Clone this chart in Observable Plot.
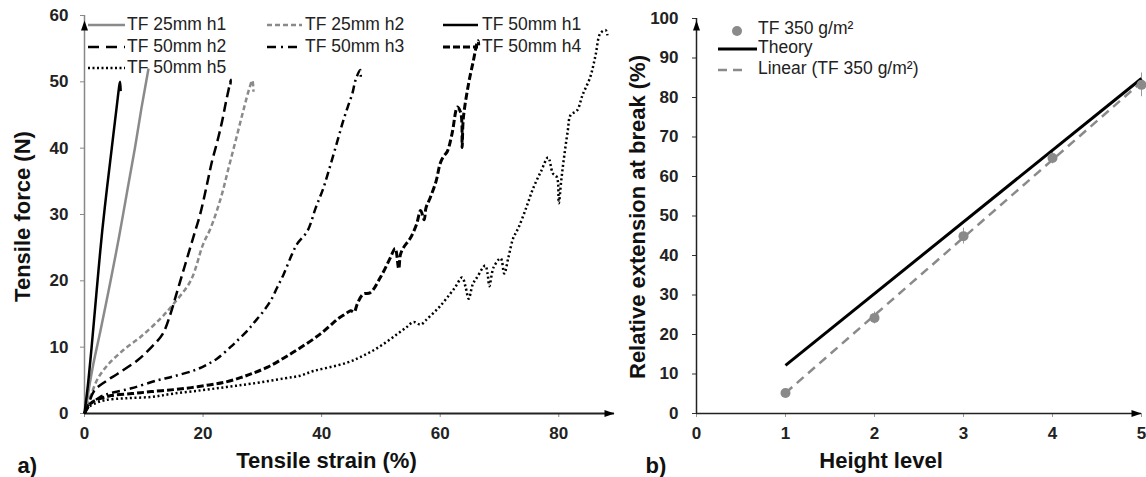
<!DOCTYPE html>
<html>
<head>
<meta charset="utf-8">
<script src="https://cdn.jsdelivr.net/npm/d3@7"></script>
<script src="https://cdn.jsdelivr.net/npm/@observablehq/plot@0.6"></script>
<style>
  body { margin: 0; background: #fff; }
  #wrap { position: relative; width: 1146px; height: 477px; display: flex; font-family: "Liberation Sans", Arial, sans-serif; }
  #a, #b { flex: none; }
  #legend { position: absolute; left: 0; top: 0; pointer-events: none; }
</style>
</head>
<body>
<div id="wrap">
  <div id="a"></div>
  <div id="b"></div>
  <svg id="legend" width="1146" height="477"></svg>
</div>
<script>
// ---------- Panel a data: [tensile strain (%), tensile force (N)] ----------
const tf25h1 = [[0,0],[0.3,1.2],[0.7,3.5],[1.5,7.5],[2.7,12.5],[4.4,20],[5.8,26.5],[7.2,33.5],[8.5,40],[9.6,46],[10.4,50],[10.8,52]];
const tf25h2 = [[0,0],[0.4,1.2],[1.1,2.8],[2.2,5.2],[3.9,7.3],[6.6,9.6],[9.4,11.5],[12.8,14.3],[15,16.5],[17.9,20],[20,25.5],[21.3,28],[23,32.5],[24.3,37],[25.6,41.5],[26.8,45.7],[27.8,49],[28.3,50.2],[28.5,48.5]];
const tf50h1 = [[0,0],[0.6,4.5],[1.2,10],[1.8,16],[2.4,22],[3,27.6],[3.8,34],[4.6,40],[5.4,46],[6,50],[6.1,48.6]];
const tf50h2 = [[0,0],[0.5,1],[1.7,3.5],[3.5,4.8],[5.6,6],[8.9,8],[11.3,10],[13.2,12],[14.5,15],[15.5,18],[16.5,21],[17.5,24],[18.5,27],[19.5,30],[20.7,34.7],[21.5,38],[22.4,41],[23.2,44],[23.8,46.7],[24.4,49.2],[24.7,50.3],[24.6,49.6]];
const tf50h3 = [[0,0],[1,1.4],[2.5,2.4],[3.4,2.8],[5,3.2],[7.9,3.8],[12.3,5],[15,5.6],[18.5,6.5],[20.5,7.3],[22.4,8.3],[24.6,10],[25.8,11],[27.5,12.5],[28.5,13.6],[30,15.2],[31.4,17],[32.5,19],[33.6,21],[35,24],[35.9,25.6],[37.6,27.5],[39,31],[40.3,34],[41.5,37.5],[42.7,41.2],[43.6,44],[44.4,46.2],[45.2,48.3],[45.7,50.2],[46.5,51.8],[46.6,50.5]];
const tf50h4 = [[0,0],[1,1.5],[2.5,2.2],[4.5,2.7],[8,3],[11.3,3.3],[15,3.6],[18,3.9],[21,4.3],[23.6,4.7],[26.3,5.4],[28.2,6],[30.9,7],[33.7,8.4],[36.4,9.9],[39.8,12],[42,13.7],[42.8,14.3],[44,15],[44.9,15.5],[45.5,15.3],[46,16.5],[47,18],[48.2,18.2],[49.9,20.5],[51.6,23.5],[52.4,24.9],[53,21.8],[53.3,24],[53.8,25],[55,26.5],[56,28.5],[56.7,30.6],[57.3,29.2],[57.6,31],[58.3,32.5],[59.3,35],[60,37.7],[60.6,38.8],[61.2,39.5],[62,42.2],[62.9,46.2],[63.5,45.2],[63.7,40.1],[63.9,44.5],[64.8,49.8],[65.6,53.2],[66.2,55.8],[66.4,56.2],[66.5,55.5]];
const tf50h5 = [[0,0],[0.5,0.8],[1.5,1.4],[3.4,2],[7,2.3],[11.3,2.5],[15,3],[19.7,3.5],[24,4],[28.2,4.5],[33.7,5.3],[36.4,5.7],[38.6,6.4],[41.5,7],[44.4,7.7],[46.5,8.5],[48.7,9.5],[50.8,10.7],[52.8,12],[54.3,13],[55.5,13.8],[56.7,13.4],[57.5,14],[58.9,15.2],[60,16.2],[61.2,17.5],[62.5,19],[63.7,20.5],[64.3,19],[64.8,17.3],[65.5,19.5],[66.2,20.5],[67.6,22.3],[68,21],[68.3,19.2],[69,22],[70.2,23.4],[70.8,21.1],[71.5,23.5],[72.3,26.4],[73.2,28],[74.5,31],[75.7,34],[77,36.5],[78.2,38.6],[79,36.2],[79.7,35.6],[80,31.7],[80.4,35],[80.8,38],[81.5,42.5],[82,45],[83.1,45.7],[84,48],[85.3,50.7],[86.2,54],[87,57.3],[87.9,57.8],[88.2,57]];

const seriesNamesA = ["TF 25mm h1","TF 25mm h2","TF 50mm h1","TF 50mm h2","TF 50mm h3","TF 50mm h4","TF 50mm h5"];
const xTicksA = [0,20,40,60,80];
const yTicksA = [0,10,20,30,40,50,60];
const xDomainA = [0, 89.4];
const yDomainA = [0, 60];

// ---------- Panel b data ----------
const heightLevels = [1,2,3,4,5];
const extension = [5.2, 24.2, 44.9, 64.7, 83.2];
const extensionErr = [1, 1.5, 2, 1.5, 3];
const theoryX = [1, 5];
const theoryY = [12.2, 84.8];
const linearX = [1, 5];
const linearY = [5.2, 83.9];
const xTicksB = [0,1,2,3,4,5];
const yTicksB = [0,10,20,30,40,50,60,70,80,90,100];
const xDomainB = [0, 5];
const yDomainB = [0, 100];
const legendNamesB = ["TF 350 g/m²", "Theory", "Linear (TF 350 g/m²)"];

// ---------- styles ----------
const GREY = "#8a8a8a";
const styleA = [
  {stroke: GREY, dash: null, w: 2.5},
  {stroke: GREY, dash: "5,3", w: 2.5},
  {stroke: "#000", dash: null, w: 2.5},
  {stroke: "#000", dash: "10,5", w: 2.5},
  {stroke: "#000", dash: "8,4,2,4", w: 2.5},
  {stroke: "#000", dash: "7,3", w: 3},
  {stroke: "#000", dash: "2,2.6", w: 2.5}
];
const legendDashA = [null, "5,3", null, "11,7", "9,5,2,5", "7,3", "2,2.5"];
const dataA = [tf25h1, tf25h2, tf50h1, tf50h2, tf50h3, tf50h4, tf50h5];

const arrowHead = {draw(ctx) { ctx.moveTo(0, 0); ctx.lineTo(-3.5, 10); ctx.lineTo(3.5, 10); ctx.closePath(); }};
const FONT = "'Liberation Sans', Arial, sans-serif";
const fmtInt = d => String(d);

const lineMarks = dataA.map((d, i) => Plot.line(d, {
  x: p => p[0], y: p => p[1], stroke: styleA[i].stroke, strokeWidth: styleA[i].w,
  strokeDasharray: styleA[i].dash, strokeLinecap: "butt", strokeLinejoin: "round", curve: "catmull-rom"
}));

const titleStyle = {fontSize: 22, fontWeight: "bold", fill: "#111"};

const plotA = Plot.plot({
  width: 620, height: 477,
  marginLeft: 84, marginRight: 6, marginTop: 15, marginBottom: 64,
  style: {fontFamily: FONT, background: "transparent"},
  x: {domain: xDomainA},
  y: {domain: yDomainA},
  marks: [
    Plot.axisY({ticks: yTicksA, tickFormat: fmtInt, tickSize: 4, tickPadding: 12, stroke: "#888", fill: "#222", fontSize: 17, fontWeight: "bold", label: null}),
    Plot.axisX({ticks: xTicksA, tickFormat: fmtInt, tickSize: 4, tickPadding: 9, stroke: "#888", fill: "#222", fontSize: 17, fontWeight: "bold", label: null}),
    Plot.ruleX([xDomainA[0]], {y1: yDomainA[0], y2: yDomainA[1], stroke: "#888", strokeWidth: 1.5}),
    Plot.ruleY([yDomainA[0]], {x1: xDomainA[0], x2: xDomainA[1], stroke: "#222", strokeWidth: 1.8}),
    Plot.dot([0], {x: () => xDomainA[0], y: () => yDomainA[1], symbol: arrowHead, fill: "#000", stroke: null, dy: 5}),
    Plot.dot([0], {x: () => xDomainA[1], y: () => yDomainA[0], symbol: arrowHead, fill: "#000", stroke: null, rotate: 90}),
    ...lineMarks,
    Plot.text(["Tensile force (N)"], {frameAnchor: "left", textAnchor: "middle", lineAnchor: "middle", rotate: -90, dx: -62, dy: 2, ...titleStyle}),
    Plot.text(["Tensile strain (%)"], {frameAnchor: "bottom", textAnchor: "middle", lineAnchor: "middle", dx: -23, dy: 47, ...titleStyle}),
    Plot.text(["a)"], {frameAnchor: "bottom-left", textAnchor: "start", lineAnchor: "middle", dx: -67, dy: 52, ...titleStyle})
  ]
});
document.getElementById("a").append(plotA);

const pts = heightLevels.map((h, i) => ({h, v: extension[i], e: extensionErr[i]}));
const theory = theoryX.map((x, i) => ({x, y: theoryY[i]}));
const linear = linearX.map((x, i) => ({x, y: linearY[i]}));

const plotB = Plot.plot({
  width: 526, height: 477,
  marginLeft: 76, marginRight: 5, marginTop: 18, marginBottom: 64,
  style: {fontFamily: FONT, background: "transparent", overflow: "visible"},
  x: {domain: xDomainB},
  y: {domain: yDomainB},
  marks: [
    Plot.axisY({ticks: yTicksB, tickFormat: fmtInt, tickSize: 4, tickPadding: 14, stroke: "#333", fill: "#222", fontSize: 17, fontWeight: "bold", label: null}),
    Plot.axisX({ticks: xTicksB, tickFormat: fmtInt, tickSize: 4, tickPadding: 9, stroke: "#999", fill: "#222", fontSize: 17, fontWeight: "bold", label: null}),
    Plot.ruleX([xDomainB[0]], {y1: yDomainB[0], y2: yDomainB[1], stroke: "#222", strokeWidth: 1.5}),
    Plot.ruleY([yDomainB[0]], {x1: xDomainB[0], x2: xDomainB[1], stroke: "#222", strokeWidth: 1.5}),
    Plot.dot([0], {x: () => xDomainB[0], y: () => yDomainB[1], symbol: arrowHead, fill: "#000", stroke: null, dy: 2}),
    Plot.dot([0], {x: () => xDomainB[1], y: () => yDomainB[0], symbol: arrowHead, fill: "#000", stroke: null, rotate: 90}),
    Plot.ruleX(pts, {x: "h", y1: d => d.v - d.e, y2: d => d.v + d.e, stroke: "#999", strokeWidth: 1}),
    Plot.line(linear, {x: "x", y: "y", stroke: GREY, strokeWidth: 2.5, strokeDasharray: "9,6", strokeLinecap: "butt"}),
    Plot.line(theory, {x: "x", y: "y", stroke: "#000", strokeWidth: 3, strokeLinecap: "butt"}),
    Plot.dot(pts, {x: "h", y: "v", r: 5, fill: GREY, stroke: null}),
    Plot.text(["Relative extension at break (%)"], {frameAnchor: "left", textAnchor: "middle", lineAnchor: "middle", rotate: -90, dx: -59, dy: 1, ...titleStyle}),
    Plot.text(["Height level"], {frameAnchor: "bottom", textAnchor: "middle", lineAnchor: "middle", dx: -38, dy: 47, ...titleStyle}),
    Plot.text(["b)"], {frameAnchor: "bottom-left", textAnchor: "start", lineAnchor: "middle", dx: -51, dy: 52, ...titleStyle})
  ]
});
document.getElementById("b").append(plotB);

// ---------- legends ----------
const lg = d3.select("#legend");
const colsA = [[88,125,127],[267,302,305],[443,478,482]];
const rowsA = [25, 47, 68];
seriesNamesA.forEach((name, i) => {
  const r = Math.floor(i / 3), c = i % 3;
  const [x1, x2, tx] = colsA[c], y = rowsA[r];
  lg.append("line").attr("x1", x1).attr("x2", x2).attr("y1", y).attr("y2", y)
    .attr("stroke", styleA[i].stroke).attr("stroke-width", styleA[i].w)
    .attr("stroke-dasharray", legendDashA[i]);
  lg.append("text").attr("x", tx).attr("y", y).attr("dominant-baseline", "middle")
    .attr("font-family", FONT).attr("font-size", 17.5).attr("fill", "#222").text(name);
});
const rowsB = [30, 49, 70];
lg.append("circle").attr("cx", 737).attr("cy", rowsB[0] + 1).attr("r", 5).attr("fill", GREY);
lg.append("line").attr("x1", 718).attr("x2", 757).attr("y1", rowsB[1]).attr("y2", rowsB[1]).attr("stroke", "#000").attr("stroke-width", 3);
lg.append("line").attr("x1", 718).attr("x2", 748).attr("y1", rowsB[2]).attr("y2", rowsB[2]).attr("stroke", GREY).attr("stroke-width", 2.5).attr("stroke-dasharray", "9,6");
legendNamesB.forEach((name, i) => {
  lg.append("text").attr("x", 758).attr("y", rowsB[i] - 1).attr("dominant-baseline", "middle")
    .attr("font-family", FONT).attr("font-size", 17.5).attr("fill", "#222").text(name);
});
</script>
</body>
</html>
